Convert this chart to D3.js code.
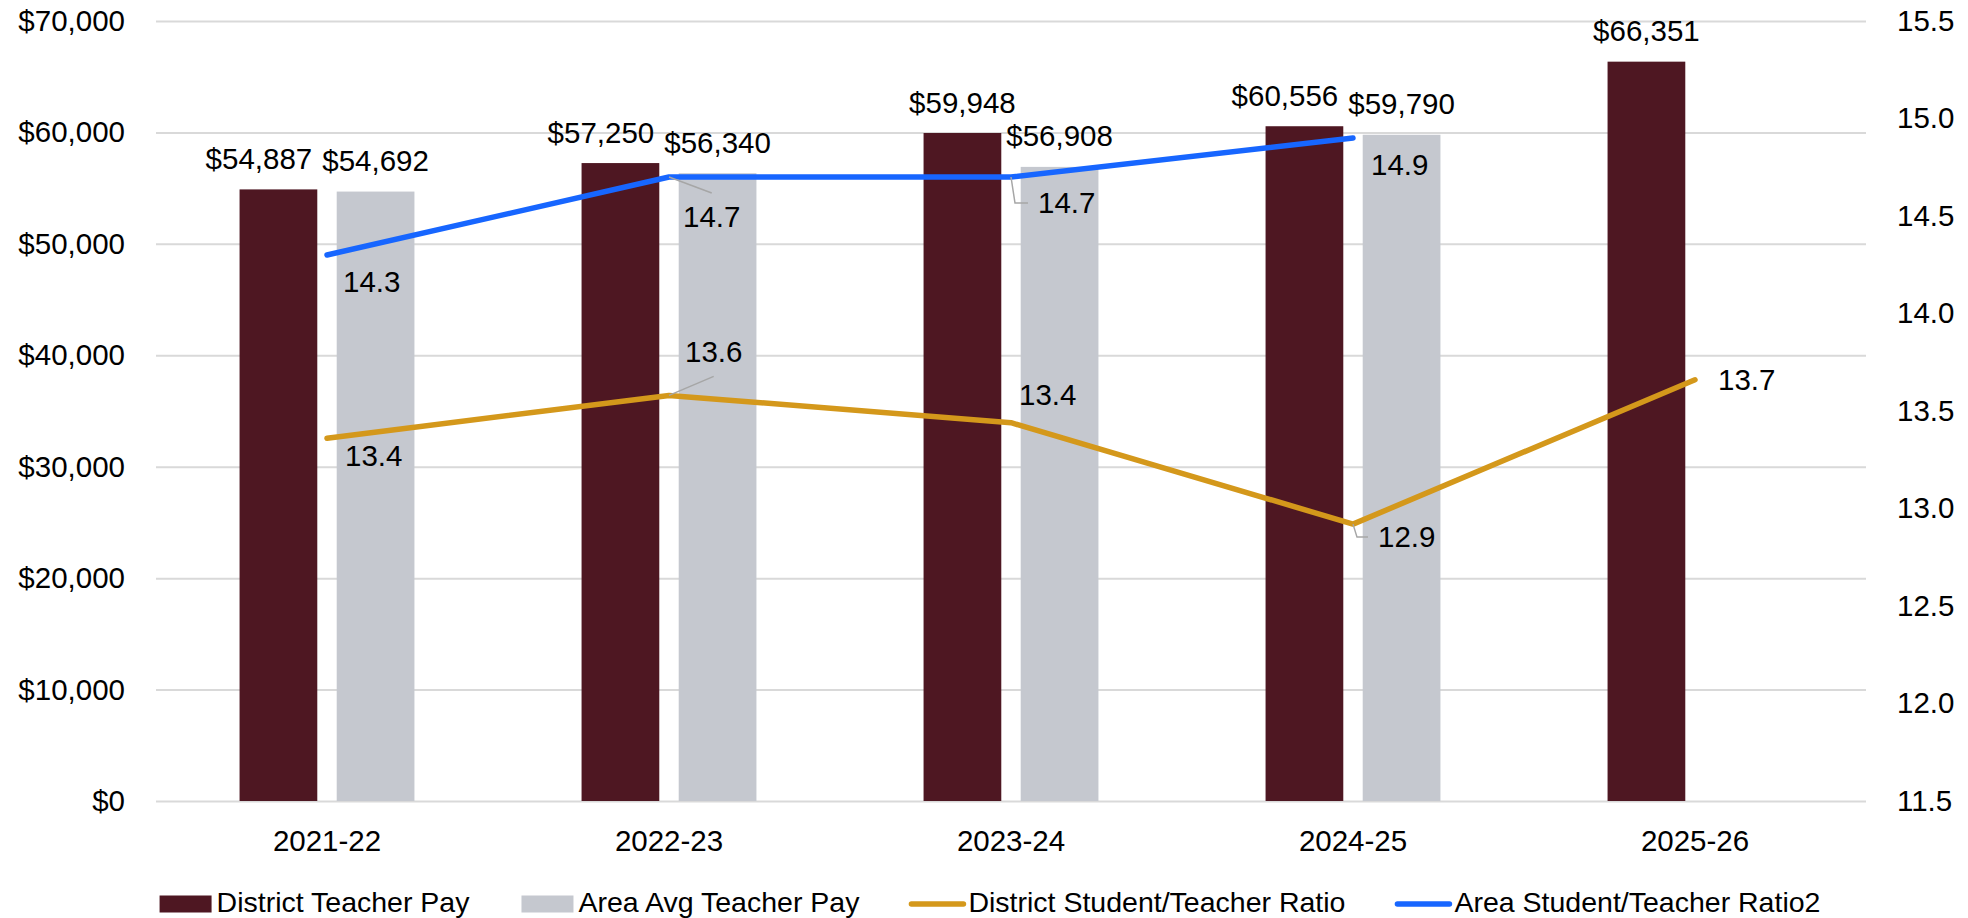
<!DOCTYPE html>
<html>
<head>
<meta charset="utf-8">
<script src="https://cdn.jsdelivr.net/npm/d3@7"></script>
<style>
  body { margin: 0; background: #fff; }
  svg { display: block; }
</style>
</head>
<body>
<div id="chart"></div>
<script>
// chart values
var years = ["2021-22", "2022-23", "2023-24", "2024-25", "2025-26"];
var districtPay = [54887, 57250, 59948, 60556, 66351];
var areaPay = [54692, 56340, 56908, 59790, null];
var districtRatio = [13.36, 13.58, 13.44, 12.92, 13.66];
var areaRatio = [14.3, 14.7, 14.7, 14.9, null];
var payTicks = [0, 10000, 20000, 30000, 40000, 50000, 60000, 70000];
var ratioTicks = [11.5, 12, 12.5, 13, 13.5, 14, 14.5, 15, 15.5];
var seriesNames = ["District Teacher Pay", "Area Avg Teacher Pay", "District Student/Teacher Ratio", "Area Student/Teacher Ratio2"];

// manual label placement (like the hand-moved labels in the original)
var areaRatioNudge = [[16, 37], [14, 50], [27, 36], [18, 37], null];
var districtRatioNudge = [[18, 28], [16, -33], [8, -18], [25, 23], [23, 10]];
var areaLeader = [null, "diag", "elbow", null, null];
var districtLeader = [null, "diag", null, "elbow", null];

var colors = { district: "#4E1722", area: "#C5C8CF", dRatio: "#D4981B", aRatio: "#1766FF", grid: "#D9D9D9", leader: "#A6A6A6" };
var font = "'Liberation Sans', Arial, sans-serif";
var fs = 29.5;

var W = 1968, H = 918;
var margin = { top: 21, right: 102, bottom: 117, left: 156 };
var plotW = W - margin.left - margin.right,
    plotH = H - margin.top - margin.bottom;

var svg = d3.select("#chart").append("svg")
    .attr("width", W)
    .attr("height", H);

var g = svg.append("g")
    .attr("transform", "translate(" + margin.left + "," + margin.top + ")");

var x0 = d3.scaleBand().domain(years).range([0, plotW]).padding(0);
var x1 = d3.scaleBand().domain(["district", "area"]).range([0, x0.bandwidth()])
    .paddingInner(0.2).paddingOuter(0.86);
var y = d3.scaleLinear().domain([0, 70000]).range([plotH, 0]);
var y2 = d3.scaleLinear().domain([11.5, 15.5]).range([plotH, 0]);

// gridlines
var grid = g.append("g").call(d3.axisLeft(y).tickValues(payTicks).tickSize(-plotW).tickFormat(""));
grid.select(".domain").remove();
grid.selectAll("line").attr("stroke", colors.grid).attr("stroke-width", 2);

// left axis
var yAx = g.append("g").call(d3.axisLeft(y).tickValues(payTicks).tickSize(0).tickPadding(31).tickFormat(d3.format("$,")));
yAx.select(".domain").remove();
yAx.selectAll("text").attr("font-family", font).attr("font-size", fs).attr("fill", "#000");

// right axis
var y2Ax = g.append("g").attr("transform", "translate(" + plotW + ",0)")
    .call(d3.axisRight(y2).tickValues(ratioTicks).tickSize(0).tickPadding(31).tickFormat(d3.format(".1f")));
y2Ax.select(".domain").remove();
y2Ax.selectAll("text").attr("font-family", font).attr("font-size", fs).attr("fill", "#000");

// x axis
var xAx = g.append("g").attr("transform", "translate(0," + plotH + ")")
    .call(d3.axisBottom(x0).tickSize(0).tickPadding(29));
xAx.select(".domain").remove();
xAx.selectAll("text").attr("font-family", font).attr("font-size", fs).attr("fill", "#000");

// bars
var barData = [];
years.forEach(function(yr, i) {
  barData.push({ year: yr, key: "district", value: districtPay[i] });
  if (areaPay[i] != null) barData.push({ year: yr, key: "area", value: areaPay[i] });
});

g.selectAll(".bar").data(barData).enter().append("rect")
    .attr("class", "bar")
    .attr("x", function(d) { return x0(d.year) + x1(d.key); })
    .attr("y", function(d) { return y(d.value); })
    .attr("width", x1.bandwidth())
    .attr("height", function(d) { return plotH - y(d.value); })
    .attr("fill", function(d) { return colors[d.key]; });

// bar labels
var barLabels = g.selectAll(".barLabel").data(barData).enter().append("text")
    .attr("class", "barLabel")
    .attr("x", function(d) { return x0(d.year) + x1(d.key) + x1.bandwidth() / 2; })
    .attr("y", function(d) { return y(d.value) - 20.5; })
    .attr("text-anchor", "middle")
    .attr("font-family", font).attr("font-size", fs).attr("fill", "#000")
    .text(function(d) { return d3.format("$,")(d.value); });

// push district label left when it runs into the area label next to it
barLabels.each(function(d) {
  if (d.key != "district") return;
  var me = this, other = null;
  barLabels.each(function(e) { if (e.year == d.year && e.key == "area") other = this; });
  if (!other) return;
  var a = me.getBBox(), b = other.getBBox();
  var overlapX = a.x + a.width > b.x - 10;
  var overlapY = Math.abs((a.y) - (b.y)) < a.height;
  if (overlapX && overlapY) {
    var shift = (a.x + a.width) - (b.x - 10);
    d3.select(me).attr("x", +d3.select(me).attr("x") - shift);
  }
});

// lines
function drawRatio(values, color, nudge, leader) {
  var pts = [];
  values.forEach(function(v, i) {
    if (v != null) pts.push({ i: i, v: v, x: x0(years[i]) + x0.bandwidth() / 2, y: y2(v) });
  });

  g.append("path").datum(pts)
      .attr("fill", "none")
      .attr("stroke", color)
      .attr("stroke-width", 5.5)
      .attr("stroke-linecap", "round")
      .attr("stroke-linejoin", "round")
      .attr("d", d3.line().x(function(d) { return d.x; }).y(function(d) { return d.y; }));

  pts.forEach(function(p) {
    var n = nudge[p.i];
    var lx = p.x + n[0], ly = p.y + n[1];
    var t = g.append("text")
        .attr("x", lx).attr("y", ly)
        .attr("font-family", font).attr("font-size", fs).attr("fill", "#000")
        .text(d3.format(".1f")(p.v));
    var w = t.node().getComputedTextLength();
    var kind = leader[p.i];
    if (kind == "diag") {
      var ey = n[1] > 0 ? ly - 34 : ly + 14;
      g.append("line")
          .attr("x1", p.x).attr("y1", p.y)
          .attr("x2", lx + w / 2).attr("y2", ey)
          .attr("stroke", colors.leader).attr("stroke-width", 1.5);
    } else if (kind == "elbow") {
      var my = ly - 10;
      g.append("path")
          .attr("fill", "none")
          .attr("stroke", colors.leader).attr("stroke-width", 1.5)
          .attr("d", "M" + p.x + "," + p.y + "L" + (p.x + 4) + "," + my + "L" + (lx - 10) + "," + my);
    }
  });
}

drawRatio(districtRatio, colors.dRatio, districtRatioNudge, districtLeader);
drawRatio(areaRatio, colors.aRatio, areaRatioNudge, areaLeader);

// legend
var legendKinds = ["rect", "rect", "line", "line"];
var legendColors = [colors.district, colors.area, colors.dRatio, colors.aRatio];
var legend = svg.append("g").attr("transform", "translate(0,904)");
var lx = 0;
seriesNames.forEach(function(name, i) {
  var item = legend.append("g").attr("transform", "translate(" + lx + ",0)");
  if (legendKinds[i] == "rect") {
    item.append("rect").attr("x", 0).attr("y", -8.5).attr("width", 52).attr("height", 17).attr("fill", legendColors[i]);
  } else {
    item.append("line").attr("x1", 0).attr("x2", 52).attr("y1", 0).attr("y2", 0)
        .attr("stroke", legendColors[i]).attr("stroke-width", 5.5).attr("stroke-linecap", "round");
  }
  var t = item.append("text").attr("x", 57).attr("y", 8)
      .attr("font-family", font).attr("font-size", 28.5).attr("fill", "#000")
      .text(name);
  lx += 57 + t.node().getComputedTextLength() + 52;
});
var legendW = lx - 52;
legend.attr("transform", "translate(" + (990 - legendW / 2) + ",904)");
</script>
</body>
</html>
